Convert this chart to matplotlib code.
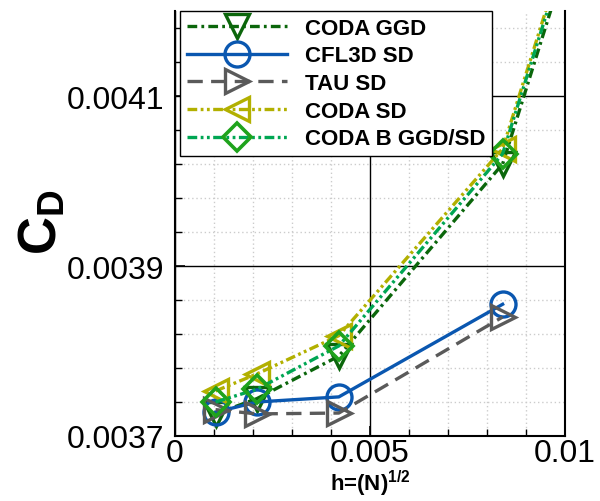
import numpy as np
import matplotlib
matplotlib.use('Agg')
import matplotlib.pyplot as plt
from matplotlib.ticker import FixedLocator, FuncFormatter

plt.rcParams['font.family'] = ['Liberation Sans', 'DejaVu Sans']
plt.rcParams['mathtext.fontset'] = 'custom'
plt.rcParams['mathtext.rm'] = 'Liberation Sans'
plt.rcParams['mathtext.bf'] = 'Liberation Sans:bold'
plt.rcParams['lines.scale_dashes'] = False

# Grid spacing h and drag coefficient per code.
h_vals = [0.00104, 0.0021, 0.0042, 0.0084, 0.0168]
coda_ggd = [0.003726, 0.003744, 0.003794, 0.004020, 0.005250]
cfl3d_sd = [0.003728, 0.003740, 0.003746, 0.003855]
tau_sd = [0.003731, 0.003726, 0.003727, 0.003840]
coda_sd = [0.003753, 0.003773, 0.003818, 0.004038, 0.005270]
coda_b = [0.003740, 0.003755, 0.003806, 0.004032, 0.005260]

labels = ['CODA GGD', 'CFL3D SD', 'TAU SD', 'CODA SD', 'CODA B GGD/SD']

fig = plt.figure(figsize=(6, 5.02), dpi=100)
ax = fig.add_axes([0.2917, 0.1295, 0.65, 0.8465])

lw = 2.4
ax.plot(h_vals, coda_ggd, color='#0b660b', lw=lw, dashes=(7, 3, 2, 3),
        marker='v', ms=17, mfc='none', mew=2.4, label=labels[0])
ax.plot(h_vals[:4], cfl3d_sd, color='#0a57b0', lw=lw, linestyle='-',
        marker='o', ms=18, mfc='none', mew=2.4, label=labels[1])
ax.plot(h_vals[:4], tau_sd, color='#5a5a5a', lw=lw, dashes=(11, 6),
        marker='>', ms=17, mfc='none', mew=2.4, label=labels[2])
ax.plot(h_vals, coda_sd, color='#b2b000', lw=lw, dashes=(7, 2.5, 2, 2.5, 2, 2.5),
        marker='<', ms=17, mfc='none', mew=2.4, label=labels[3])
ax.plot(h_vals, coda_b, color='#00a653', lw=lw, dashes=(7, 2.5, 2, 2.5, 2, 2.5),
        marker='D', ms=14, mfc='none', mec='#1fa31c', mew=2.6, label=labels[4])

ax.set_xlim(0, 0.01)
ax.set_ylim(0.0037, 0.0042)

ax.xaxis.set_major_locator(FixedLocator([0, 0.005, 0.01]))
ax.xaxis.set_minor_locator(FixedLocator(np.arange(0.001, 0.01, 0.001)))
ax.yaxis.set_major_locator(FixedLocator([0.0037, 0.0039, 0.0041]))
ax.yaxis.set_minor_locator(FixedLocator(np.arange(0.0037, 0.00421, 0.00004)))
ax.xaxis.set_major_formatter(FuncFormatter(lambda v, p: '%g' % round(v, 6)))
ax.yaxis.set_major_formatter(FuncFormatter(lambda v, p: '%g' % round(v, 6)))

ax.tick_params(which='both', direction='in', labelsize=23)
ax.tick_params(which='major', length=7, width=1.2, pad=8)
ax.tick_params(which='minor', length=5, width=1.0)
ax.tick_params(axis='x', pad=1.5)

ax.grid(which='major', color='black', lw=1.0, ls='-')
ax.grid(which='minor', color='#cccccc', lw=1.0, ls=(0, (1, 2)))
ax.set_axisbelow(True)

ax.spines['top'].set_visible(False)
for s in ['left', 'bottom', 'right']:
    ax.spines[s].set_linewidth(1.5)

fig.text(0.6167, 0.006, r'h=(N)$^{\mathbf{1/2}}$', fontsize=16, fontweight='bold',
         ha='center', va='bottom')
ax.text(-0.34, 0.505, r'$\mathbf{C_D}$', fontsize=38, rotation=90,
        ha='center', va='center', transform=ax.transAxes)

leg = ax.legend(loc='upper left', bbox_to_anchor=(0.013, 1.0), borderaxespad=0,
                prop={'weight': 'bold', 'size': 16}, handlelength=4.5,
                handletextpad=0.8, labelspacing=0.3, fancybox=False,
                framealpha=1, edgecolor='black', borderpad=0.3)
leg.get_frame().set_linewidth(1.0)

fig.savefig('out.png', dpi=100)
